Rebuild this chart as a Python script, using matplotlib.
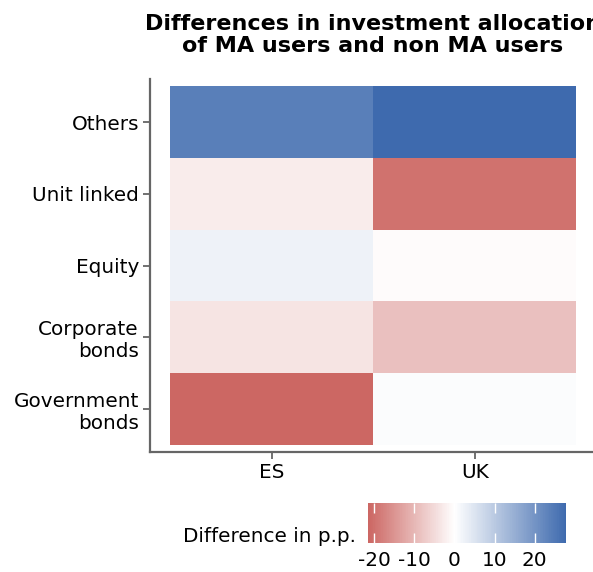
import matplotlib
matplotlib.use("Agg")
import matplotlib.pyplot as plt
import numpy as np
from matplotlib.colors import LinearSegmentedColormap, Normalize

# data: difference in p.p. (MA users minus non MA users)
assets = ["Others", "Unit linked", "Equity", "Corporate\nbonds", "Government\nbonds"]
countries = ["ES", "UK"]
es_diff = [23.8, -2.8, 2.6, -3.8, -21.5]
uk_diff = [27.8, -19.8, -0.5, -8.8, 0.6]
cbar_ticks = [-20, -10, 0, 10, 20]

plt.rcParams['font.family'] = 'DejaVu Sans'

Z = np.array([es_diff, uk_diff]).T
lim = np.abs(Z).max()
cmap = LinearSegmentedColormap.from_list("rdwbu", ["#bd3a35", "#ffffff", "#3e6aae"])
norm = Normalize(vmin=-lim, vmax=lim)

W, H = 593, 572
fig = plt.figure(figsize=(W / 100, H / 100), dpi=100)

#===============================================================================
# heatmap
#-------------------------------------------------------------------------------
ax = fig.add_axes([150 / W, 1 - 452 / H, 446.6 / W, 373 / H])
ax.pcolormesh(np.arange(len(countries) + 1) - 0.5, np.arange(len(assets) + 1) - 0.5,
              Z, cmap=cmap, norm=norm)
ax.set_xlim(-0.6, 1.6)
ax.set_ylim(4.6, -0.6)
ax.set_xticks(range(len(countries)))
ax.set_xticklabels(countries)
ax.set_yticks(range(len(assets)))
ax.set_yticklabels(assets, ha='right', multialignment='right')
for s in ['top', 'right']:
    ax.spines[s].set_visible(False)
for s in ['left', 'bottom']:
    ax.spines[s].set_color('#666666')
    ax.spines[s].set_linewidth(1.6)
ax.tick_params(colors='#666666', labelcolor='black', labelsize=14.4, length=5, width=1.3, pad=3)
ax.set_facecolor('white')

#===============================================================================
# title (centred on the panel, runs past the right edge like the original)
#-------------------------------------------------------------------------------
fig.text(373 / W, 1 - 35 / H, "Differences in investment allocation\nof MA users and non MA users",
         fontsize=16, fontweight='bold', ha='center', va='center', linespacing=1.17)

#===============================================================================
# colour bar
#-------------------------------------------------------------------------------
cax = fig.add_axes([368 / W, 1 - 543 / H, 198 / W, 40 / H])
grad = np.linspace(Z.min(), Z.max(), 300)
cax.pcolormesh(grad, [0, 1], grad[:-1].reshape(1, -1), cmap=cmap, norm=norm)
cax.set_xlim(Z.min(), Z.max())
cax.set_ylim(0, 1)
cax.set_yticks([])
cax.set_xticks(cbar_ticks)
cax.set_xticklabels([str(t) for t in cbar_ticks])
cax.tick_params(axis='x', direction='in', top=True, length=7, width=1, colors='white',
                labelcolor='black', labelsize=14.4, pad=6)
for s in cax.spines.values():
    s.set_visible(False)
fig.text(356 / W, 1 - 537 / H, "Difference in p.p.", fontsize=14.4, ha='right', va='center')

fig.savefig("out.png", dpi=100)
